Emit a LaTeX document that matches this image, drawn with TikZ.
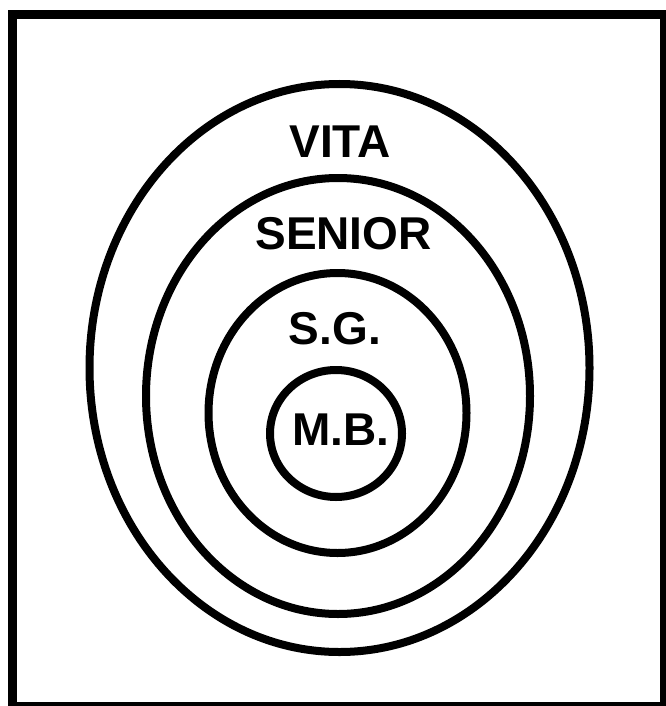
\documentclass[tikz,border=0pt]{standalone}
\usepackage{fontspec}
\setmainfont{Liberation Sans}
\usepackage{tikz}
\usetikzlibrary{shapes.geometric}

\begin{document}
\begin{tikzpicture}[
  x=1pt, y=-1pt,
  ring/.style={ellipse, draw=black, line width=8pt, inner sep=0pt},
  lbl/.style={font=\fontsize{46}{50}\selectfont\bfseries, inner sep=0pt},
]
  \useasboundingbox[fill=white] (0,0) rectangle (665,706);
  \draw[line width=9pt] (12.5,14.5) rectangle (664.5,706.5);
  % rings, outer to inner
  \node[ring, minimum width=500pt, minimum height=568pt] (vita) at (339.5,368) {};
  \node[ring, minimum width=384pt, minimum height=436pt] (senior) at (338,396) {};
  \node[ring, minimum width=258pt, minimum height=280pt] (sg) at (337.5,413) {};
  \node[ring, minimum width=132pt, minimum height=127pt] (mb) at (336,433.5) {};
  % labels
  \node[lbl] (vitatext) at (340,141.5) {VITA};
  \node[lbl] (seniortext) at (343.5,234) {SENIOR};
  \node[lbl] (sgtext) at (335,329) {S.G.};
  \node[lbl] (mbtext) at (341,430) {M.B.};
\end{tikzpicture}
\end{document}
